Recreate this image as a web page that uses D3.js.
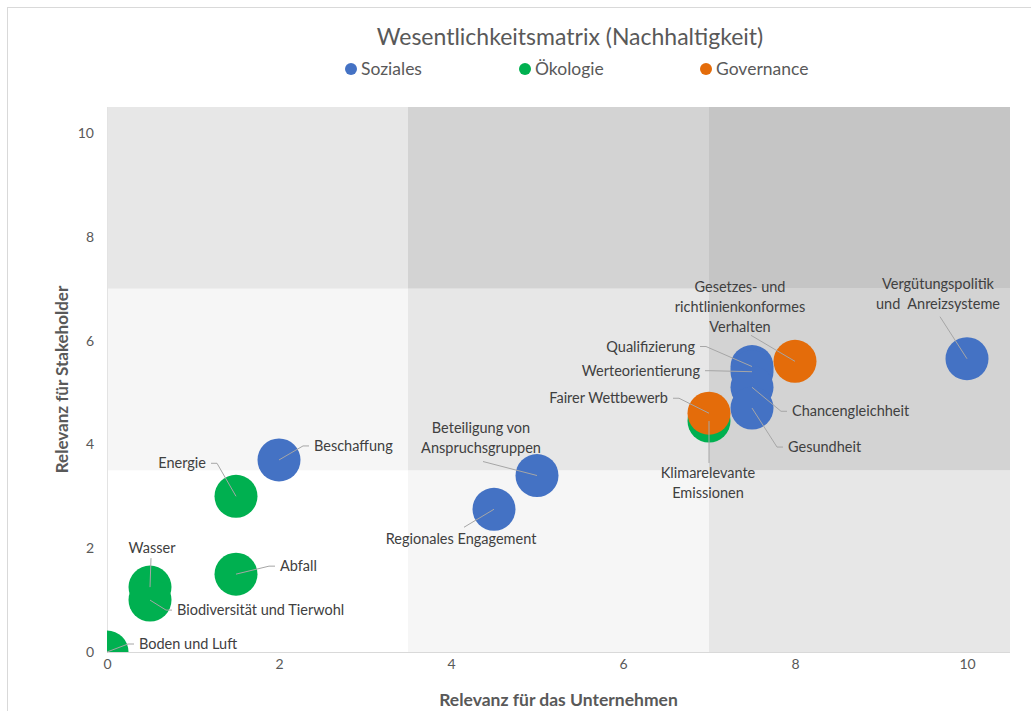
<!DOCTYPE html>
<html>
<head>
<meta charset="utf-8">
<script src="https://cdn.jsdelivr.net/npm/d3@7"></script>
<style>
  html, body { margin: 0; padding: 0; background: #fff; }
  svg { display: block; font-family: Lato, "Open Sans", sans-serif; }
</style>
</head>
<body>
<div id="chart"></div>
<script>
// --- data ---
const series = ["Soziales", "Ökologie", "Governance"];
const seriesColors = ["#4472C4", "#00B050", "#E46C0A"];

const names = [
  "Beschaffung", "Regionales Engagement", "Beteiligung von\nAnspruchsgruppen",
  "Qualifizierung", "Werteorientierung", "Chancengleichheit", "Gesundheit",
  "Vergütungspolitik\nund  Anreizsysteme",
  "Energie", "Abfall", "Wasser", "Biodiversität und Tierwohl", "Boden und Luft",
  "Klimarelevante\nEmissionen",
  "Fairer Wettbewerb", "Gesetzes- und\nrichtlinienkonformes\nVerhalten"
];
const group = [0, 0, 0, 0, 0, 0, 0, 0, 1, 1, 1, 1, 1, 1, 2, 2];
const xValues = [2, 4.5, 5, 7.5, 7.5, 7.5, 7.5, 10, 1.5, 1.5, 0.5, 0.5, 0, 7, 7, 8];
const yValues = [3.7, 2.75, 3.4, 5.5, 5.4, 5.1, 4.7, 5.65, 3, 1.5, 1.25, 1, 0, 4.45, 4.6, 5.6];

const xTicks = [0, 2, 4, 6, 8, 10];
const yTicks = [0, 2, 4, 6, 8, 10];
const zoneBreaks = [0, 3.5, 7, 10.5];

// label placement relative to bubble centre (px): dx, dy, anchor, leader attach
const labelLayout = [
  { dx: 35, dy: -14, a: "start" },
  { dx: -33, dy: 30, a: "middle", lx: -30, ly: 18 },
  { dx: -56, dy: -48, a: "middle", lx: -54, ly: -14 },
  { dx: -57, dy: -20, a: "end" },
  { dx: -52, dy: -1, a: "end" },
  { dx: 40, dy: 24, a: "start" },
  { dx: 36, dy: 39, a: "start" },
  { dx: -29, dy: -75, a: "middle", lx: -27, ly: -42 },
  { dx: -30, dy: -33, a: "end" },
  { dx: 44, dy: -8, a: "start" },
  { dx: 2, dy: -39, a: "middle", lx: 1, ly: -29 },
  { dx: 27, dy: 10, a: "start" },
  { dx: 32, dy: -8, a: "start" },
  { dx: -1, dy: 52, a: "middle", lx: 0, ly: 42 },
  { dx: -41, dy: -15, a: "end" },
  { dx: -55, dy: -74, a: "middle", lx: -44, ly: -26 }
];

const W = 1031, H = 711;
const plot = { left: 107, right: 1010, top: 107, bottom: 652 };
const R = 21.5;

const svg = d3.select("#chart").append("svg")
  .attr("width", W).attr("height", H);

// outer frame
svg.append("rect")
  .attr("x", 7.5).attr("y", 7.5).attr("width", W + 20).attr("height", H + 20)
  .attr("fill", "none").attr("stroke", "#d9d9d9");

const x = d3.scaleLinear().domain([0, 10.5]).range([plot.left, plot.right]);
const y = d3.scaleLinear().domain([0, 10.5]).range([plot.bottom, plot.top]);

// background zones
const shades = ["#ffffff", "#f6f6f6", "#e7e7e7", "#d3d3d3", "#c5c5c5"];
const zones = [];
for (let i = 0; i < 3; i++) for (let j = 0; j < 3; j++) zones.push({ i, j });
svg.append("g").selectAll("rect").data(zones).join("rect")
  .attr("x", d => x(zoneBreaks[d.i]))
  .attr("y", d => y(zoneBreaks[d.j + 1]))
  .attr("width", d => x(zoneBreaks[d.i + 1]) - x(zoneBreaks[d.i]))
  .attr("height", d => y(zoneBreaks[d.j]) - y(zoneBreaks[d.j + 1]))
  .attr("fill", d => shades[d.i + d.j]);

// axis lines
svg.append("line")
  .attr("x1", plot.left).attr("x2", plot.right)
  .attr("y1", plot.bottom + 0.5).attr("y2", plot.bottom + 0.5)
  .attr("stroke", "#d9d9d9");
svg.append("line")
  .attr("x1", plot.left + 0.5).attr("x2", plot.left + 0.5)
  .attr("y1", plot.top).attr("y2", plot.bottom)
  .attr("stroke", "#e3e3e3");

// ticks
const xAxis = svg.append("g")
  .attr("transform", `translate(0,${plot.bottom + 4})`)
  .call(d3.axisBottom(x).tickValues(xTicks).tickSize(0).tickPadding(3));
const yAxis = svg.append("g")
  .attr("transform", `translate(${plot.left - 12},0)`)
  .call(d3.axisLeft(y).tickValues(yTicks).tickSize(0).tickPadding(1));
[xAxis, yAxis].forEach(ax => {
  ax.select(".domain").remove();
  ax.selectAll("text")
    .attr("fill", "#595959")
    .style("font-size", "14px")
    .style("font-family", "Lato, sans-serif");
});

// axis titles
svg.append("text")
  .attr("x", (plot.left + plot.right) / 2).attr("y", 706)
  .attr("text-anchor", "middle")
  .attr("fill", "#595959").style("font-size", "17.5px").style("font-weight", 700)
  .text("Relevanz für das Unternehmen");
svg.append("text")
  .attr("transform", `translate(68,${(plot.top + plot.bottom) / 2}) rotate(-90)`)
  .attr("text-anchor", "middle")
  .attr("fill", "#595959").style("font-size", "17px").style("font-weight", 700)
  .text("Relevanz für Stakeholder");

// title + legend
svg.append("text")
  .attr("x", 570).attr("y", 45)
  .attr("text-anchor", "middle")
  .attr("fill", "#595959").style("font-size", "23px")
  .text("Wesentlichkeitsmatrix (Nachhaltigkeit)");

const legendX = [351, 525, 706];
const legend = svg.append("g").selectAll("g").data(series).join("g")
  .attr("transform", (d, i) => `translate(${legendX[i]},69)`);
legend.append("circle").attr("r", 6).attr("fill", (d, i) => seriesColors[i]);
legend.append("text")
  .attr("x", 10).attr("dy", "0.35em")
  .attr("fill", "#595959").style("font-size", "17.5px")
  .text(d => d);

// points
const data = names.map((n, i) => ({
  name: n, g: group[i], x: xValues[i], y: yValues[i], lab: labelLayout[i]
}));

svg.append("clipPath").attr("id", "clip")
  .append("rect")
  .attr("x", plot.left).attr("y", plot.top)
  .attr("width", plot.right - plot.left).attr("height", plot.bottom - plot.top);

const order = [0, 1, 2].flatMap(g => data.filter(d => d.g === g));
svg.append("g").attr("clip-path", "url(#clip)")
  .selectAll("circle").data(order).join("circle")
  .attr("cx", d => x(d.x))
  .attr("cy", d => y(d.y))
  .attr("r", R)
  .attr("fill", d => seriesColors[d.g]);

// leader lines
const leaderPts = d => {
  const cx = x(d.x), cy = y(d.y), L = d.lab;
  if (L.a === "middle") {
    return [[cx + L.lx, cy + L.ly], [cx, cy]];
  }
  const sx = cx + L.dx + (L.a === "start" ? -5 : 5);
  const sy = cy + L.dy;
  const kx = sx + (L.a === "start" ? -6 : 6);
  return [[sx, sy], [kx, sy], [cx, cy]];
};
svg.append("g").selectAll("path").data(data).join("path")
  .attr("d", d => d3.line()(leaderPts(d)))
  .attr("fill", "none")
  .attr("stroke", "#a6a6a6")
  .attr("stroke-width", 1);

// labels
const labels = svg.append("g").selectAll("text").data(data).join("text")
  .attr("x", d => x(d.x) + d.lab.dx)
  .attr("y", d => y(d.y) + d.lab.dy)
  .attr("text-anchor", d => d.lab.a)
  .attr("fill", "#404040")
  .style("font-size", "14.5px");
labels.each(function (d) {
  const t = d3.select(this);
  d.name.split("\n").forEach((line, k) => {
    t.append("tspan")
      .attr("x", x(d.x) + d.lab.dx)
      .attr("dy", k === 0 ? "0.35em" : "1.38em")
      .style("white-space", "pre")
      .text(line);
  });
});
</script>
</body>
</html>
